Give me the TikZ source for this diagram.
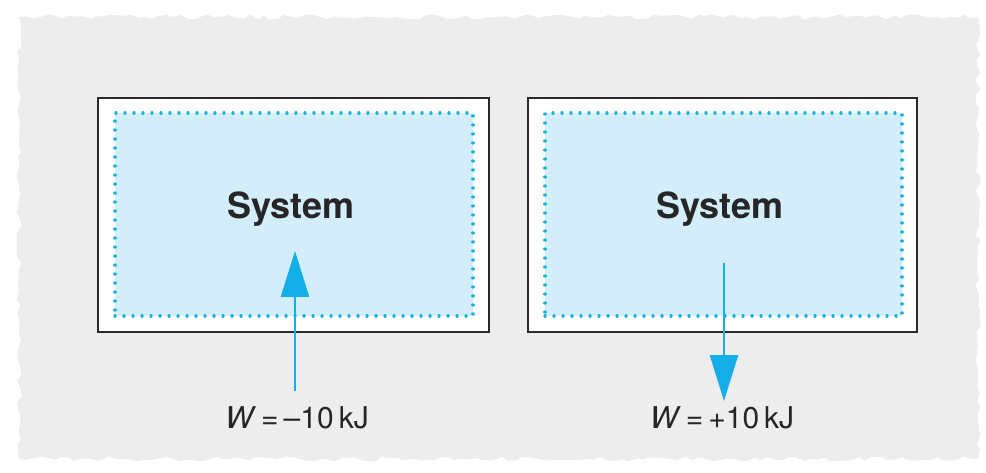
\documentclass[tikz,border=0pt]{standalone}
\usepackage{fontspec}
\setmainfont{TeX Gyre Heros}
\usetikzlibrary{arrows.meta,decorations.pathmorphing}
\definecolor{bggrey}{HTML}{EDEDED}
\definecolor{sysfill}{HTML}{D3EEFA}
\definecolor{dotcyan}{HTML}{12B4DC}
\definecolor{arrcyan}{HTML}{14AEE8}
\definecolor{boxline}{HTML}{2A2A2A}
\tikzset{
  outerbox/.style={draw=boxline, line width=1.6pt, fill=white},
  innerbox/.style={draw=dotcyan, fill=sysfill, line width=3.2pt, dash pattern=on 0.1pt off 8.9pt, line cap=round},
  systext/.style={font=\fontsize{36}{38}\selectfont\bfseries, text=black!85},
  wlabel/.style={font=\fontsize{30}{32}\selectfont, text=black!85},
  workarrow/.style={draw=arrcyan, line width=2.6pt, -{Triangle[length=46pt,width=28pt]}}
}
\begin{document}
\begin{tikzpicture}[x=1pt,y=-1pt]
\useasboundingbox (0,0) rectangle (986,473);
\pgfmathsetseed{7}
\fill[bggrey, decorate, decoration={random steps, segment length=7pt, amplitude=2.5pt}]
  (19,17) -- (978,17) -- (978,459) -- (19,459) -- cycle;
% left system
\node[outerbox, minimum width=391pt, minimum height=234pt, inner sep=0pt] (lbox) at (293.5,215) {};
\node[innerbox, minimum width=358pt, minimum height=203pt, inner sep=0pt] (lin) at (294,214.5) {};
\node[systext] (lsys) at (291,209) {System};
\node[wlabel] (lw) at (297,418) {\textit{W}\,=\,\textendash 10\,kJ};
\coordinate (lstart) at (295,391);
\coordinate (ltip) at (295,251);
\draw[workarrow] (lstart) -- (ltip);
% right system
\node[outerbox, minimum width=389pt, minimum height=234pt, inner sep=0pt] (rbox) at (722.5,215) {};
\node[innerbox, minimum width=357pt, minimum height=203pt, inner sep=0pt] (rin) at (723.5,214.5) {};
\node[systext] (rsys) at (720,209) {System};
\node[wlabel] (rw) at (722,418) {\textit{W}\,=\,+10\,kJ};
\coordinate (rstart) at (724,263);
\coordinate (rtip) at (724,401);
\draw[workarrow] (rstart) -- (rtip);
\end{tikzpicture}
\end{document}
